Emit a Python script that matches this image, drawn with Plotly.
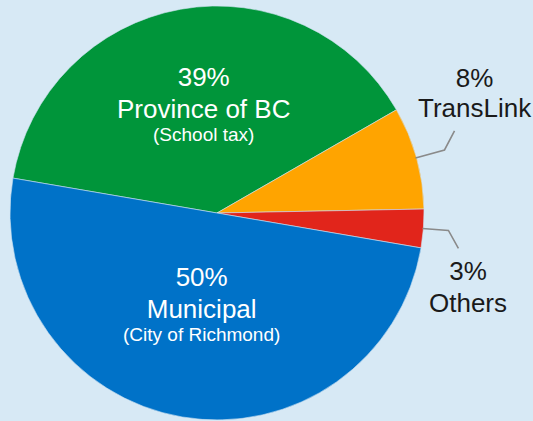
import math
import plotly.graph_objects as go

labels = ["Province of BC", "TransLink", "Others", "Municipal"]
subtitles = ["(School tax)", "", "", "(City of Richmond)"]
values = [39, 8, 3, 50]
colors = ["#00953a", "#ffa400", "#e1251b", "#0072c8"]

W, H = 533, 421
CX, CY, R = 217, 213, 207
START_DEG = 170.3  # standard angle where first slice begins (clockwise)

FONT = "Liberation Sans"
BG = "#d7e9f5"
BIG, SMALL = 26, 19

def px(x, y):
    return x / W, 1 - y / H

fig = go.Figure()
fig.add_trace(go.Pie(
    labels=labels, values=values, sort=False, direction="clockwise",
    rotation=-(START_DEG - 90), textinfo="none", hoverinfo="none",
    marker=dict(colors=colors, line=dict(color="#cfe3f2", width=0.6)),
    showlegend=False,
    domain=dict(x=[(CX - R) / W, (CX + R) / W], y=[(H - CY - R) / H, (H - CY + R) / H]),
))

ann = []
def block(x, ybottom, t, base, color):
    xp, yp = px(x, ybottom)
    ann.append(dict(x=xp, y=yp, xref="paper", yref="paper", text=t, showarrow=False,
                    xanchor="center", yanchor="bottom", align="center",
                    font=dict(family=FONT, size=base, color=color)))

def sp(t, s):
    return f"<span style='font-size:{s}px'>{t}</span>"

# Inside labels (pct / name / subtitle); line gaps made with empty lines of a tiny base font
for i, (xc, yb) in {0: (203, 147.5), 3: (201, 346.5)}.items():
    t = sp(f"{values[i]}%", BIG) + "<br>" * 7 + sp(labels[i], BIG) + "<br>" * 5 + sp(subtitles[i], SMALL)
    block(xc, yb, t, 3.54, "white")

# Outside labels
for i, (xc, yb, base) in {1: (475, 125, 23.1), 2: (467.5, 319.5, 24.4)}.items():
    t = sp(f"{values[i]}%", BIG) + "<br>" + sp(labels[i], BIG)
    block(xc, yb, t, base, "#1a1a1a")

total = sum(values)
mids = []
a = START_DEG
for v in values:
    span = 360 * v / total
    mids.append(a - span / 2)
    a -= span

shapes = []
offsets = {1: [(29, -8), (39, -27)], 2: [(26, 2), (36, 20)]}
for i, offs in offsets.items():
    ang = math.radians(mids[i])
    x0 = CX + (R - 1) * math.cos(ang)
    y0 = CY - (R - 1) * math.sin(ang)
    pts = [(x0, y0)] + [(x0 + dx, y0 + dy) for dx, dy in offs]
    path = "M " + " L ".join(f"{px(x, y)[0]:.5f},{px(x, y)[1]:.5f}" for x, y in pts)
    shapes.append(dict(type="path", path=path, xref="paper", yref="paper",
                       line=dict(color="#8a8a8a", width=1.6)))

fig.update_layout(
    width=W, height=H, margin=dict(l=0, r=0, t=0, b=0),
    paper_bgcolor=BG, plot_bgcolor=BG,
    annotations=ann, shapes=shapes,
)
fig.write_html("out.html")
